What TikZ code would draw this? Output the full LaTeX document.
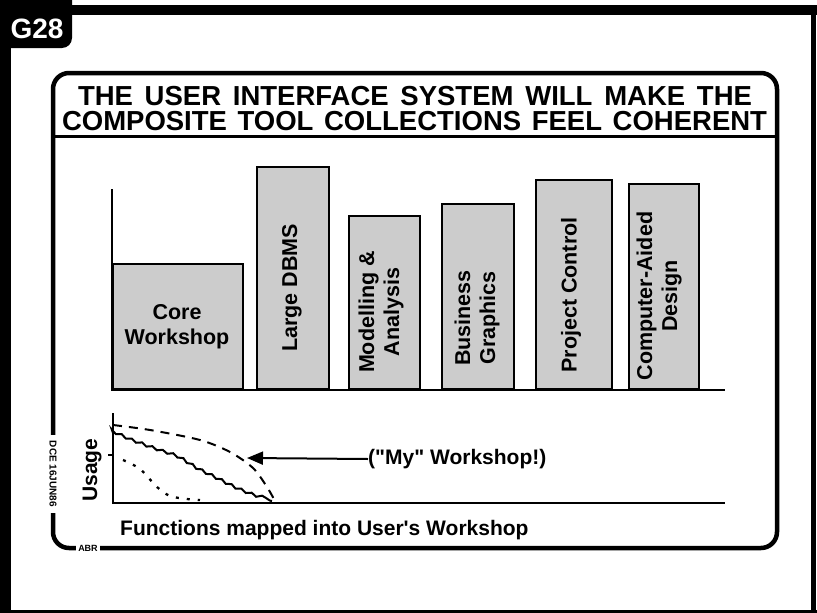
\documentclass[tikz,border=0pt]{standalone}
\usepackage{fontspec}
\setmainfont{Liberation Sans}[Ligatures=TeXOff]
\usetikzlibrary{decorations.pathmorphing,arrows.meta}
\tikzset{
  bar/.style={draw, line width=1.6pt, fill=black!20, inner sep=0pt, anchor=south west},
  barlabel/.style={font=\bfseries\fontsize{21.5}{25}\selectfont, align=center, inner sep=0pt},
  lbl/.style={font=\bfseries\fontsize{21}{25}\selectfont, inner sep=0pt},
  axis/.style={line width=2pt},
  tinytext/.style={font=\bfseries\fontsize{9}{9}\selectfont, fill=white, inner sep=2pt},
  titletext/.style={font=\bfseries\fontsize{27.5}{27.5}\selectfont, inner sep=0pt, anchor=base},
}
\begin{document}
\begin{tikzpicture}[x=1pt,y=-1pt]
\useasboundingbox (0,0) rectangle (817,613);
% outer frame
\fill (0,5) rectangle (817,15);
\fill (0,0) rectangle (11,613);
\fill (811,5) rectangle (816,613);
\fill (0,610) rectangle (817,613);
\fill[rounded corners=10pt] (-30,-30) rectangle (72,48);
\node[text=white, font=\bfseries\fontsize{28}{28}\selectfont, inner sep=0pt] (g28) at (37,29) {G28};
% inner rounded box
\draw[line width=4.5pt, rounded corners=16pt] (53,73) rectangle (777,548);
\draw[line width=3pt] (53,136) -- (777,136);
\node[titletext] (t1) at (415,105) {\makebox[674pt][s]{THE USER INTERFACE SYSTEM WILL MAKE THE}};
\node[titletext] (t2) at (414.5,130) {\makebox[705pt][s]{COMPOSITE TOOL COLLECTIONS FEEL COHERENT}};
\node[tinytext, rotate=-90, inner xsep=6pt, font=\bfseries\fontsize{10}{10}\selectfont] (dce) at (53,474) {DCE 16JUN86};
\node[tinytext] (abr) at (88,548) {ABR};
% bar chart
\node[bar, minimum width=130pt, minimum height=125pt] (core) at (112,390) {};
\node[bar, minimum width=72pt, minimum height=222pt] (dbms) at (256,390) {};
\node[bar, minimum width=71pt, minimum height=173pt] (model) at (348,390) {};
\node[bar, minimum width=72pt, minimum height=185pt] (busi) at (441,390) {};
\node[bar, minimum width=76pt, minimum height=209pt] (proj) at (535,390) {};
\node[bar, minimum width=70pt, minimum height=205pt] (cad) at (628,390) {};
\draw[axis] (112,189) -- (112,390) -- (725,390);
\node[barlabel] (lcore) at (177,327) {Core\\Workshop};
\node[barlabel, rotate=90] (ldbms) at (292,288) {Large DBMS};
\node[barlabel, rotate=90] (lmodel) at (381,312) {Modelling \&\\Analysis};
\node[barlabel, rotate=90] (lbusi) at (477,318) {Business\\Graphics};
\node[barlabel, rotate=90] (lproj) at (571,295) {Project Control};
\node[barlabel, rotate=90] (lcad) at (659,296) {Computer-Aided\\Design};
% usage chart
\draw[axis] (113,413) -- (113,503) -- (725,503);
\draw[line width=1.5pt] (108,455) -- (113,455);
\node[lbl, rotate=90] (usage) at (92,470) {Usage};
\draw[line width=2pt, dash pattern=on 9pt off 7pt] plot[smooth] coordinates {(113,425) (150,430) (200,440) (230,452) (253,468) (267,487) (275,501)};
\draw[line width=2pt, decorate, decoration={snake, amplitude=1.2pt, segment length=11pt}] plot[smooth] coordinates {(113,433) (133,442) (160,452) (180,459) (200,471) (220,481) (240,491) (258,498) (272,501)};
\draw[line width=2.3pt, dash pattern=on 3pt off 8pt] plot[smooth] coordinates {(123,460) (140,469) (157,487) (170,496) (187,499) (200,500)};
\node[lbl, anchor=west] (my) at (368,459) {("My" Workshop!)};
\coordinate (tip) at (247,458);
\draw[line width=2pt, -{Triangle[length=16pt,width=13pt]}] (my.west) -- (tip);
\node[lbl, anchor=base west] (func) at (120,535) {Functions mapped into User's Workshop};
\end{tikzpicture}
\end{document}
